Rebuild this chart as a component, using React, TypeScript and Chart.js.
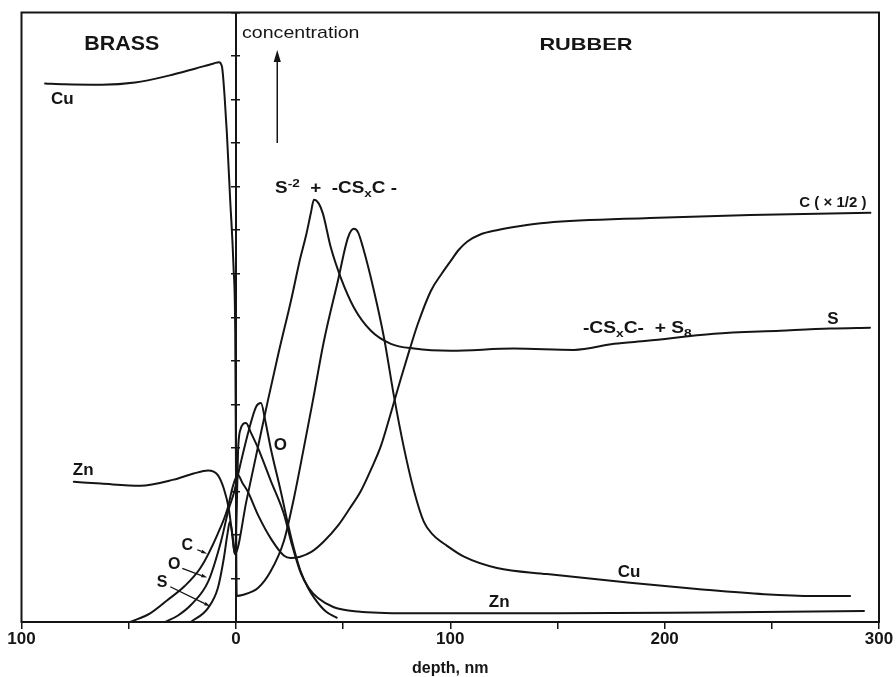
import React, { useEffect, useRef } from 'react';
import { Chart, registerables } from 'chart.js';

Chart.register(...registerables);

// ---- data (depth in nm, concentration in arbitrary units) ----
const cuX = [-89, -80, -62.5, -47, -31.3, -19.1, -10.3, -7.9, -6.5, -5.3, -4.2, -2.66, -1.1, -0.3, 0, 0.2, 0.4, 3, 10.3, 16.3, 22.4, 27.1, 31.7, 35.9, 41.1, 47.6, 52.3, 55.1, 57, 59.3, 64.4, 69.1, 73.7, 78.4, 83.1, 87.7, 92, 98.5, 106.4, 121.8, 145.1, 183.9, 215.1, 246.4, 269.7, 286.5];
const cuY = [12.37, 12.35, 12.34, 12.39, 12.55, 12.71, 12.83, 12.86, 12.76, 12.1, 11.23, 9.7, 8.16, 6.63, 4.0, 1.5, 0.6, 0.62, 0.78, 1.17, 1.86, 2.85, 4.0, 5.08, 6.46, 7.84, 8.83, 9.03, 8.95, 8.6, 7.61, 6.53, 5.2, 4.0, 3.01, 2.3, 2.0, 1.75, 1.5, 1.24, 1.1, 0.9, 0.76, 0.64, 0.6, 0.6];

const znX = [-75.6, -63, -44.6, -29, -19.7, -13, -8.5, -5.6, -3.3, -1.8, -0.5, 0.4, 1, 2, 4.7, 7, 10.3, 16.3, 22.4, 26, 30.3, 34, 38.3, 45.7, 57, 80, 150, 220, 293];
const znY = [3.22, 3.18, 3.13, 3.27, 3.41, 3.48, 3.38, 3.06, 2.6, 2.05, 1.56, 2.6, 3.9, 4.4, 4.57, 4.35, 4.0, 3.24, 2.48, 1.8, 1.12, 0.78, 0.55, 0.34, 0.24, 0.2, 0.2, 0.22, 0.25];

const oX = [-32.9, -27, -21, -13, -7, -3.3, -1, 2, 6, 9.5, 11.7, 13.8, 16.3, 21, 24.3, 27, 30.3, 33.5, 36.6, 42, 47];
const oY = [0, 0.15, 0.39, 0.92, 1.84, 2.6, 2.95, 3.6, 4.4, 4.95, 5.03, 4.6, 3.98, 2.99, 2.25, 1.7, 1.15, 0.8, 0.55, 0.24, 0.1];

const cX = [-49.3, -40, -32, -24, -16.4, -8.5, -3.8, -1.5, 0.9, 3, 5.6, 10.3, 16.4, 22.5, 25.5, 30, 35.2, 41, 47.9, 53, 58.3, 63, 67.7, 72, 77, 81, 84.9, 91, 96, 100.3, 104, 108, 114, 121.7, 132, 145, 193, 240, 296];
const cY = [0, 0.2, 0.5, 0.82, 1.25, 2.02, 2.62, 3.1, 3.38, 3.2, 2.99, 2.46, 1.91, 1.52, 1.47, 1.5, 1.61, 1.85, 2.23, 2.6, 3.01, 3.5, 4.05, 4.75, 5.6, 6.25, 6.85, 7.61, 8.0, 8.3, 8.55, 8.74, 8.9, 9.0, 9.09, 9.17, 9.28, 9.35, 9.4];

const sX = [-21, -13, -8.4, -5.6, -4, -2.8, -1.6, -0.5, 5, 10, 14.9, 20, 25.7, 30, 32.7, 35, 36.4, 38.7, 40.6, 44.3, 49, 55.1, 63, 72.3, 83.1, 100.3, 129.7, 157.7, 176.4, 191.8, 223, 253.9, 277.2, 295.8];
const sY = [0, 0.32, 0.78, 1.47, 2.0, 2.3, 2.0, 1.56, 2.8, 3.95, 5.08, 6.2, 7.38, 8.35, 8.87, 9.4, 9.7, 9.61, 9.38, 8.6, 7.9, 7.22, 6.69, 6.39, 6.28, 6.23, 6.28, 6.25, 6.39, 6.46, 6.62, 6.69, 6.74, 6.76];

const xMin = -100;
const xMax = 300;
const yMin = 0;
const yMax = 14;

// ---- annotations (placed in data coordinates) ----
type Seg = [string, 'n' | 'sup' | 'sub'];
interface Note {
  segs: Seg[];
  x: number;
  y: number;
  size: number;
  bold: boolean;
  align: 'left' | 'center' | 'right';
  stretch: number;
}

const notes: Note[] = [
  { segs: [['BRASS', 'n']], x: -53.2, y: 13.32, size: 21, bold: true, align: 'center', stretch: 1.02 },
  { segs: [['RUBBER', 'n']], x: 163.3, y: 13.28, size: 17, bold: true, align: 'center', stretch: 1.28 },
  { segs: [['concentration', 'n']], x: 2.9, y: 13.55, size: 17, bold: false, align: 'left', stretch: 1.15 },
  { segs: [['S', 'n'], ['-2', 'sup'], ['  +  -CS', 'n'], ['x', 'sub'], ['C -', 'n']], x: 18.3, y: 9.98, size: 16, bold: true, align: 'left', stretch: 1.18 },
  { segs: [['C ( × 1/2 )', 'n']], x: 278.5, y: 9.65, size: 15, bold: true, align: 'center', stretch: 1.0 },
  { segs: [['S', 'n']], x: 278.5, y: 6.99, size: 17, bold: true, align: 'center', stretch: 1 },
  { segs: [['-CS', 'n'], ['x', 'sub'], ['C-  + S', 'n'], ['8', 'sub']], x: 161.9, y: 6.76, size: 16, bold: true, align: 'left', stretch: 1.2 },
  { segs: [['Cu', 'n']], x: 183.4, y: 1.18, size: 17, bold: true, align: 'center', stretch: 1 },
  { segs: [['Zn', 'n']], x: 122.8, y: 0.49, size: 17, bold: true, align: 'center', stretch: 1 },
  { segs: [['Cu', 'n']], x: -81, y: 12.05, size: 17, bold: true, align: 'center', stretch: 1 },
  { segs: [['Zn', 'n']], x: -71.2, y: 3.52, size: 17, bold: true, align: 'center', stretch: 1 },
  { segs: [['O', 'n']], x: 20.7, y: 4.1, size: 17, bold: true, align: 'center', stretch: 1 },
  { segs: [['C', 'n']], x: -22.7, y: 1.78, size: 16, bold: true, align: 'center', stretch: 1 },
  { segs: [['O', 'n']], x: -28.8, y: 1.34, size: 16, bold: true, align: 'center', stretch: 1 },
  { segs: [['S', 'n']], x: -34.4, y: 0.93, size: 16, bold: true, align: 'center', stretch: 1 },
];

interface Arrow { x1: number; y1: number; x2: number; y2: number; head: number; width: number; }
const arrows: Arrow[] = [
  { x1: 19.3, y1: 11.0, x2: 19.3, y2: 13.14, head: 12, width: 1.5 },
  { x1: -18.0, y1: 1.66, x2: -13.4, y2: 1.57, head: 6, width: 1.3 },
  { x1: -25.0, y1: 1.23, x2: -13.4, y2: 1.02, head: 6, width: 1.3 },
  { x1: -30.6, y1: 0.81, x2: -12.0, y2: 0.36, head: 6, width: 1.3 },
];

const INK = '#151515';
const FONT = '"Liberation Sans", Arial, Helvetica, sans-serif';

function pts(xs: number[], ys: number[]) {
  return xs.map((x, i) => ({ x, y: ys[i] }));
}

function drawRich(ctx: CanvasRenderingContext2D, n: Note, px: number, py: number) {
  ctx.save();
  ctx.translate(px, py);
  ctx.scale(n.stretch, 1);
  const weight = n.bold ? 'bold ' : '';
  let total = 0;
  const parts = n.segs.map(([t, kind]) => {
    const sz = kind === 'n' ? n.size : n.size * 0.72;
    ctx.font = `${weight}${sz}px ${FONT}`;
    const w = ctx.measureText(t).width;
    total += w;
    return { t, kind, sz, w };
  });
  let x = n.align === 'center' ? -total / 2 : n.align === 'right' ? -total : 0;
  ctx.textAlign = 'left';
  ctx.textBaseline = 'alphabetic';
  ctx.fillStyle = INK;
  const base = n.size * 0.36;
  for (const p of parts) {
    ctx.font = `${weight}${p.sz}px ${FONT}`;
    const dy = p.kind === 'sup' ? -n.size * 0.42 : p.kind === 'sub' ? n.size * 0.25 : 0;
    ctx.fillText(p.t, x, base + dy);
    x += p.w;
  }
  ctx.restore();
}

export default function App() {
  const ref = useRef<HTMLCanvasElement>(null);

  useEffect(() => {
    const canvas = ref.current;
    if (!canvas) return;

    const framePlugin = {
      id: 'frame',
      afterDraw(chart: any) {
        const { ctx, chartArea: a } = chart;
        ctx.save();
        ctx.strokeStyle = INK;
        ctx.lineWidth = 2;
        ctx.strokeRect(a.left, a.top, a.right - a.left, a.bottom - a.top);
        ctx.restore();
      },
    };

    const notesPlugin = {
      id: 'notes',
      afterDatasetsDraw(chart: any) {
        const ctx: CanvasRenderingContext2D = chart.ctx;
        const xs = chart.scales.x;
        const ys = chart.scales.y;
        ctx.save();
        for (const a of arrows) {
          const x1 = xs.getPixelForValue(a.x1);
          const y1 = ys.getPixelForValue(a.y1);
          const x2 = xs.getPixelForValue(a.x2);
          const y2 = ys.getPixelForValue(a.y2);
          const ang = Math.atan2(y2 - y1, x2 - x1);
          const hx = x2 - Math.cos(ang) * a.head;
          const hy = y2 - Math.sin(ang) * a.head;
          ctx.strokeStyle = INK;
          ctx.lineWidth = a.width;
          ctx.beginPath();
          ctx.moveTo(x1, y1);
          ctx.lineTo(hx, hy);
          ctx.stroke();
          const hw = a.head * 0.3;
          ctx.fillStyle = INK;
          ctx.beginPath();
          ctx.moveTo(x2, y2);
          ctx.lineTo(hx + Math.sin(ang) * hw, hy - Math.cos(ang) * hw);
          ctx.lineTo(hx - Math.sin(ang) * hw, hy + Math.cos(ang) * hw);
          ctx.closePath();
          ctx.fill();
        }
        for (const n of notes) {
          drawRich(ctx, n, xs.getPixelForValue(n.x), ys.getPixelForValue(n.y));
        }
        ctx.restore();
      },
    };

    const line = (label: string, xs: number[], ys: number[]) => ({
      label,
      data: pts(xs, ys),
      borderColor: INK,
      borderWidth: 2,
      pointRadius: 0,
      fill: false,
      cubicInterpolationMode: 'monotone' as const,
      borderJoinStyle: 'round' as const,
      borderCapStyle: 'round' as const,
    });

    const chart = new Chart(canvas, {
      type: 'line',
      data: {
        datasets: [
          line('Cu', cuX, cuY),
          line('Zn', znX, znY),
          line('O', oX, oY),
          line('C', cX, cY),
          line('S', sX, sY),
        ],
      },
      options: {
        animation: false,
        responsive: true,
        maintainAspectRatio: false,
        layout: { padding: { left: 21.5, right: 17, top: 12.5, bottom: 0 } },
        plugins: { legend: { display: false }, tooltip: { enabled: false } },
        scales: {
          x: {
            type: 'linear',
            min: xMin,
            max: xMax,
            afterFit: (s: any) => {
              s.height = 55;
            },
            ticks: {
              stepSize: 50,
              autoSkip: false,
              maxRotation: 0,
              padding: 0,
              color: INK,
              font: { family: FONT, size: 17, weight: 'bold' },
              callback: (v: any) => (Number(v) % 100 === 0 ? String(Math.abs(Number(v))) : ''),
            },
            grid: { drawOnChartArea: false, drawTicks: true, tickLength: 7, color: INK, lineWidth: 1.5 },
            border: { display: true, color: INK, width: 2 },
            title: {
              display: true,
              text: 'depth, nm',
              color: INK,
              font: { family: FONT, size: 16, weight: 'bold', lineHeight: 1.1 },
              padding: { top: 0, bottom: 0 },
            },
          },
          y: {
            type: 'linear',
            axis: 'y',
            min: yMin,
            max: yMax,
            position: { x: 0 },
            ticks: { stepSize: 1, display: false },
            grid: { drawOnChartArea: false, drawTicks: true, tickLength: 4, color: INK, lineWidth: 1.5 },
            border: { display: true, color: INK, width: 2 },
          },
          y2: {
            type: 'linear',
            axis: 'y',
            min: yMin,
            max: yMax,
            position: { x: 0 },
            ticks: { stepSize: 1, display: false },
            grid: { drawOnChartArea: false, drawTicks: true, tickLength: -4, color: INK, lineWidth: 1.5 },
            border: { display: false },
          },
        },
      } as any,
      plugins: [framePlugin, notesPlugin],
    });

    return () => chart.destroy();
  }, []);

  return (
    <div style={{ position: 'fixed', left: 0, top: 0, width: 896, height: 677, background: '#fff' }}>
      <canvas ref={ref} />
    </div>
  );
}
